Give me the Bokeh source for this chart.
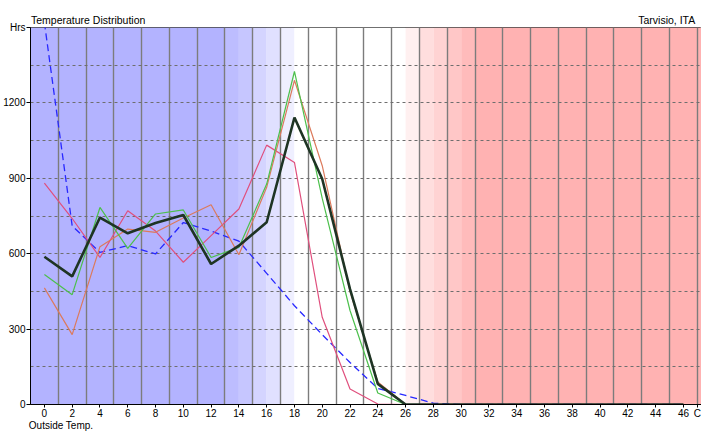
from bokeh.plotting import figure
from bokeh.models import Range1d, FixedTicker, LinearAxis
from bokeh.embed import file_html
from bokeh.resources import INLINE

# ---- data ----
temps = [0, 2, 4, 6, 8, 10, 12, 14, 16, 18, 20, 22, 24, 26, 28, 30, 32, 34, 36, 38, 40, 42, 44, 46]
avg_dashed = [1520, 711, 605, 632, 599, 724, 690, 650, 522, 393, 278, 167, 64, 36, 5, 0, 0, 0, 0, 0, 0, 0, 0, 0]
series_pink = [881, 740, 585, 771, 690, 566, 672, 778, 1032, 963, 347, 62, 2, 0, 0, 0, 0, 0, 0, 0, 0, 0, 0, 0]
series_orange = [464, 278, 628, 698, 685, 742, 795, 596, 864, 1290, 950, 450, 90, 0, 0, 0, 0, 0, 0, 0, 0, 0, 0, 0]
series_green = [517, 437, 784, 621, 758, 774, 585, 625, 877, 1325, 820, 374, 46, 0, 0, 0, 0, 0, 0, 0, 0, 0, 0, 0]
series_black = [588, 510, 744, 681, 722, 754, 559, 632, 725, 1142, 897, 459, 82, 0, 0, 0, 0, 0, 0, 0, 0, 0, 0, 0]

X_START, X_END = -1, 47.3
band_starts = [X_START, 13, 14, 15, 16, 17, 18, 26, 27, 28, 29, 30, 31]
band_ends = [13, 14, 15, 16, 17, 18, 26, 27, 28, 29, 30, 31, X_END]
band_colors = ["#b3b3ff", "#bdbdff", "#c6c6ff", "#d4d4ff", "#e0e0ff", "#efefff", "#ffffff",
               "#fff0f0", "#ffdede", "#ffd3d3", "#ffc7c7", "#ffbbbb", "#ffb2b2"]

x_ticks = [0, 2, 4, 6, 8, 10, 12, 14, 16, 18, 20, 22, 24, 26, 28, 30, 32, 34, 36, 38, 40, 42, 44, 46, 47]
x_tick_labels = {47: "C"}
y_ticks = [0, 300, 600, 900, 1200, 1500]
y_tick_labels = {1500: "Hrs"}
y_grid = [150, 300, 450, 600, 750, 900, 1050, 1200, 1350]
x_grid = [1, 3, 5, 7, 9, 11, 13, 15, 17, 19, 21, 23, 25, 27, 29, 31, 33, 35, 37, 39, 41, 43, 45, 47]
header_ticks = [3.15, 44.8]
header_labels = {3.15: "Temperature Distribution", 44.8: "Tarvisio, ITA"}
footer_ticks = [1.2]
footer_labels = {1.2: "Outside Temp."}

FONT = "Liberation Sans"

p = figure(width=701, height=433, output_backend="svg", toolbar_location=None,
           x_range=Range1d(X_START, X_END), y_range=Range1d(0, 1500),
           min_border_left=28, min_border_right=0, min_border_top=27, min_border_bottom=29)
p.background_fill_color = "white"
p.border_fill_color = "white"
p.outline_line_color = "#404040"
p.outline_line_width = 1

# temperature bands
p.quad(left=band_starts, right=band_ends, bottom=0, top=1500,
       fill_color=band_colors, line_color=None, level="image")

# grids
p.xgrid.ticker = FixedTicker(ticks=x_grid)
p.xgrid.grid_line_color = "#7c7c7c"
p.xgrid.grid_line_width = 1.4
p.ygrid.ticker = FixedTicker(ticks=y_grid)
p.ygrid.grid_line_color = "#6e6e6e"
p.ygrid.grid_line_dash = "3 3"
p.ygrid.grid_line_width = 1

# axes
p.xaxis.ticker = FixedTicker(ticks=x_ticks)
p.xaxis.major_label_overrides = x_tick_labels
p.yaxis.ticker = FixedTicker(ticks=y_ticks)
p.yaxis.major_label_overrides = y_tick_labels
for ax in (p.xaxis, p.yaxis):
    ax.axis_line_color = "black"
    ax.axis_line_width = 1
    ax.major_tick_line_color = "black"
    ax.major_tick_in = 0
    ax.major_tick_out = 3
    ax.minor_tick_line_color = None
    ax.major_label_text_font = FONT
    ax.major_label_text_font_size = "10px"
    ax.major_label_text_color = "black"
    ax.major_label_standoff = 1
p.yaxis.major_tick_out = 4
p.xaxis.major_label_standoff = 0

# header texts (title left, location right) as an unlined axis above the frame
header = LinearAxis(ticker=FixedTicker(ticks=header_ticks), major_label_overrides=header_labels,
                    axis_line_color=None, major_tick_line_color=None, minor_tick_line_color=None,
                    major_label_text_font=FONT, major_label_text_font_size="10.5px",
                    major_label_text_color="black", major_label_standoff=-4)
p.add_layout(header, "above")

# footer text (x-axis title) below tick labels
footer = LinearAxis(ticker=FixedTicker(ticks=footer_ticks), major_label_overrides=footer_labels,
                    axis_line_color=None, major_tick_line_color=None, minor_tick_line_color=None,
                    major_label_text_font=FONT, major_label_text_font_size="10px",
                    major_label_text_color="black", major_label_standoff=-8)
p.add_layout(footer, "below")

# series
p.line(temps, avg_dashed, line_color="#2828ff", line_width=1.3, line_dash="7 4")
p.line(temps, series_pink, line_color="#e0507e", line_width=1.2)
p.line(temps, series_orange, line_color="#dc7a5c", line_width=1.2)
p.line(temps, series_green, line_color="#4cc04c", line_width=1.2)
p.line(temps, series_black, line_color="#1e3424", line_width=2.6)

open("out.html", "w").write(file_html(p, INLINE))
